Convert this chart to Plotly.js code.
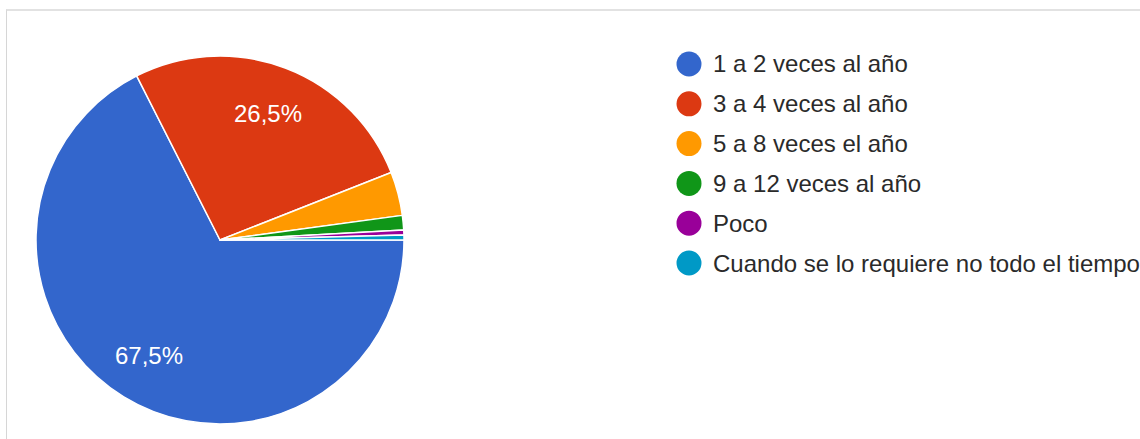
<!DOCTYPE html>
<html>
<head>
<meta charset="utf-8">
<script src="https://cdn.plot.ly/plotly-3.0.1.min.js"></script>
<style>
  html, body { margin: 0; padding: 0; background: #ffffff; }
  #wrap { position: relative; width: 1140px; height: 439px; overflow: hidden; }
  #frame { position: absolute; left: 6px; top: 9px; width: 1200px; height: 500px;
           border-top: 2px solid #e2e2e2; border-left: 1px solid #d6d6d6; pointer-events: none; }
  #chart { position: absolute; left: 0; top: 0; width: 1140px; height: 439px; }
</style>
</head>
<body>
<div id="wrap">
  <div id="chart"></div>
  <div id="frame"></div>
</div>
<script>
// Data
const categories = [
  "1 a 2 veces al año",
  "3 a 4 veces al año",
  "5 a 8 veces el año",
  "9 a 12 veces al año",
  "Poco",
  "Cuando se lo requiere no todo el tiempo"
];
const counts = [158, 62, 9, 3, 1, 1];
const sliceColors = ["#3366CC", "#DC3912", "#FF9900", "#109618", "#990099", "#0099C6"];

const total = counts.reduce((a, b) => a + b, 0);
const sliceText = counts.map(v => {
  const p = v / total * 100;
  return p >= 5 ? p.toFixed(1).replace('.', ',') + '%' : '';
});

const W = 1140, H = 439;
const cx = 220, cy = 240, R = 184;
const startDeg = 90;          // first slice starts at 3 o'clock
const labelFrac = 0.735;      // radial position of slice labels

const pie = {
  type: 'pie',
  labels: categories,
  values: counts,
  textinfo: 'none',
  sort: false,
  direction: 'clockwise',
  rotation: startDeg,
  marker: { colors: sliceColors, line: { color: '#ffffff', width: 1.5 } },
  showlegend: false,
  hoverinfo: 'label+percent',
  domain: {
    x: [(cx - R) / W, (cx + R) / W],
    y: [(H - cy - R) / H, (H - cy + R) / H]
  }
};

const shapes = [];
const annotations = [];

// Slice percentage labels, placed along each slice's mid-angle
let cum = 0;
counts.forEach((v, i) => {
  const mid = (startDeg + 360 * (cum + v / 2) / total) * Math.PI / 180;
  cum += v;
  if (!sliceText[i]) return;
  const px = cx + labelFrac * R * Math.sin(mid);
  const py = cy - labelFrac * R * Math.cos(mid);
  annotations.push({
    xref: 'paper', yref: 'paper',
    x: px / W, y: (H - py) / H,
    xanchor: 'center', yanchor: 'middle',
    text: sliceText[i], showarrow: false,
    font: { family: 'Liberation Sans, Arial, sans-serif', size: 24, color: '#ffffff' }
  });
});

// Custom legend with circle markers
const legX = 689, legY0 = 64, legStep = 39.8, legR = 12.5, textX = 711;
categories.forEach((c, i) => {
  const y = legY0 + i * legStep;
  shapes.push({
    type: 'circle', xref: 'paper', yref: 'paper',
    x0: (legX - legR) / W, x1: (legX + legR) / W,
    y0: (H - y - legR) / H, y1: (H - y + legR) / H,
    fillcolor: sliceColors[i], line: { width: 0 }
  });
  annotations.push({
    xref: 'paper', yref: 'paper',
    x: textX / W, y: (H - y) / H,
    xanchor: 'left', yanchor: 'middle',
    text: c, showarrow: false,
    font: { family: 'Liberation Sans, Arial, sans-serif', size: 24, color: '#2a2a2a' }
  });
});

const layout = {
  width: W, height: H,
  margin: { l: 0, r: 0, t: 0, b: 0 },
  paper_bgcolor: 'rgba(0,0,0,0)',
  plot_bgcolor: 'rgba(0,0,0,0)',
  showlegend: false,
  shapes: shapes,
  annotations: annotations,
  font: { family: 'Liberation Sans, Arial, sans-serif' }
};

Plotly.newPlot('chart', [pie], layout, { displayModeBar: false, staticPlot: true });
</script>
</body>
</html>
